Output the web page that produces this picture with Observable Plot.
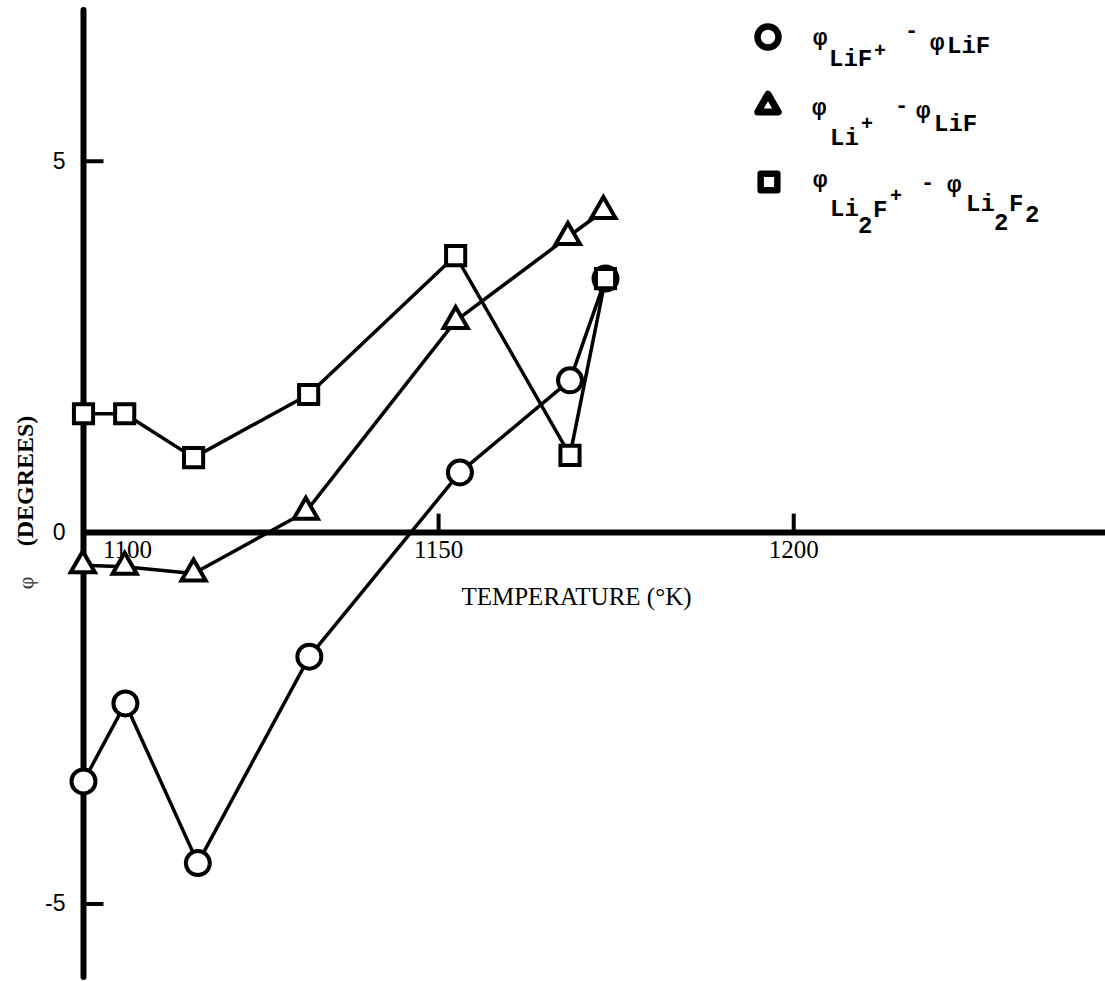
<!DOCTYPE html>
<html><head><meta charset="utf-8">
<script src="https://cdn.jsdelivr.net/npm/d3@7"></script>
<script src="https://cdn.jsdelivr.net/npm/@observablehq/plot@0.6"></script>
<style>
body{margin:0;background:#fff;}
#wrap{position:relative;width:1105px;height:981px;}
#wrap svg{display:block;}
</style></head><body><div id="wrap"></div>
<script>
// ---- data ----
const xTickValues = [1150, 1200];
const xTickLabels = [1100, 1150, 1200];
const yTickValues = [5, -5];
const yTickLabelValues = [5, 0, -5];
const yTickLabels = ["5", "0", "-5"];
const xLabel = "TEMPERATURE (°K)";
const yLabel = "(DEGREES)";
const yLabelSymbol = "φ";

// φ(LiF+) − φ(LiF)  — circles
const lifTemp = [1100.0, 1105.9, 1116.1, 1131.8, 1153.0, 1168.5, 1173.5];
const lifPhi  = [-3.35, -2.30, -4.45, -1.67, 0.81, 2.05, 3.42];
// φ(Li+) − φ(LiF)  — triangles
const liTemp = [1099.9, 1105.8, 1115.5, 1131.3, 1152.4, 1168.2, 1173.2];
const liPhi  = [-0.44, -0.46, -0.55, 0.28, 2.85, 3.98, 4.33];
// φ(Li2F+) − φ(Li2F2)  — squares
const li2fTemp = [1100.0, 1105.8, 1115.5, 1131.7, 1152.4, 1168.5, 1173.5];
const li2fPhi  = [1.60, 1.60, 1.01, 1.86, 3.73, 1.04, 3.42];

const toRows = (t, v) => t.map((d, i) => ({t: d, phi: v[i]}));
const lifRows = toRows(lifTemp, lifPhi);
const liRows = toRows(liTemp, liPhi);
const li2fRows = toRows(li2fTemp, li2fPhi);

// ---- styles ----
const serif = "Liberation Serif, Times New Roman, serif";
const sans = "Liberation Sans, Arial, sans-serif";
const tickUp = {draw(ctx){ ctx.moveTo(0, 0); ctx.lineTo(0, -19); }};
const tickRight = {draw(ctx){ ctx.moveTo(0, 0); ctx.lineTo(20, 0); }};
const lineStyle = {x: "t", y: "phi", stroke: "black", strokeWidth: 3.5, strokeLinejoin: "round"};
const dotStyle = {x: "t", y: "phi", stroke: "black", fill: "white", strokeWidth: 4};

const chart = Plot.plot({
  width: 1105, height: 981,
  marginLeft: 83, marginRight: 0, marginTop: 10, marginBottom: 4,
  x: {domain: [1100, 1243.9], axis: null},
  y: {domain: [-5.99, 7.03], axis: null},
  style: {background: "white"},
  marks: [
    Plot.ruleX([1100], {stroke: "black", strokeWidth: 6, strokeLinecap: "round"}),
    Plot.ruleY([0], {stroke: "black", strokeWidth: 6}),
    Plot.dot(xTickValues, {x: d => d, y: () => 0, symbol: tickUp, stroke: "black", fill: "none", strokeWidth: 4}),
    Plot.dot(yTickValues, {x: () => 1100, y: d => d, symbol: tickRight, stroke: "black", fill: "none", strokeWidth: 4}),
    Plot.text(xTickLabels.filter(d => d !== 1100), {x: d => d, y: () => 0, text: d => String(d), dy: 17, fontFamily: serif, fontSize: 25, fill: "black"}),
    Plot.text(xTickLabels.filter(d => d === 1100), {x: d => d, y: () => 0, text: d => String(d), dx: 44, dy: 17, fontFamily: serif, fontSize: 25, fill: "black"}),
    Plot.text(yTickLabelValues, {x: () => 1100, y: d => d, text: (d, i) => yTickLabels[i], dx: -18, textAnchor: "end", fontFamily: sans, fontSize: 23, fill: "black"}),
    Plot.text([xLabel], {frameAnchor: "top-left", text: d => d, dx: 493, dy: 586, textAnchor: "middle", lineAnchor: "middle", fontFamily: serif, fontSize: 25, fill: "black"}),
    Plot.text([yLabel], {frameAnchor: "left", text: d => d, rotate: -90, dx: -58, dy: -13, textAnchor: "middle", lineAnchor: "middle", fontFamily: serif, fontWeight: "bold", fontSize: 24, fill: "black"}),
    Plot.text([yLabelSymbol], {frameAnchor: "left", text: d => d, rotate: -90, dx: -58, dy: 89, textAnchor: "middle", lineAnchor: "middle", fontFamily: serif, fontSize: 22, fill: "#333"}),
    Plot.line(lifRows, lineStyle),
    Plot.line(liRows, lineStyle),
    Plot.line(li2fRows, lineStyle),
    Plot.dot(lifRows, {...dotStyle, r: 12}),
    Plot.dot(li2fRows, {...dotStyle, symbol: "square", r: 10.8}),
    Plot.dot(liRows, {...dotStyle, symbol: "triangle", r: 9})
  ]
});
document.getElementById("wrap").appendChild(chart);

// ---- legend (overlay) ----
const legend = d3.select("#wrap").append("svg")
  .attr("width", 1105).attr("height", 981)
  .style("position", "absolute").style("left", "0px").style("top", "0px");
const legendMarkers = [
  {sym: d3.symbolCircle, r: 10.5, x: 768, y: 37, w: 6.5},
  {sym: d3.symbolTriangle, r: 7.6, x: 768, y: 106, w: 7},
  {sym: d3.symbolSquare, r: 9.4, x: 769, y: 182, w: 6.5}
];
legend.selectAll("path").data(legendMarkers).join("path")
  .attr("d", d => d3.symbol(d.sym, d.r * d.r * Math.PI)())
  .attr("transform", d => `translate(${d.x},${d.y})`)
  .attr("fill", "white").attr("stroke", "black").attr("stroke-width", d => d.w)
  .attr("stroke-linejoin", "round");

const mono = "Liberation Mono, DejaVu Sans Mono, monospace";
const legendPieces = [
  // row 1: φ LiF+ − φ LiF
  ["φ", 813, 45, 24], ["LiF", 829, 66, 24], ["+", 874, 57, 20], ["-", 905, 37, 22], ["φ", 930, 50, 24], ["LiF", 947, 53, 24],
  // row 2: φ Li+ − φ LiF
  ["φ", 812, 115, 24], ["Li", 830, 145, 24], ["+", 861, 130, 20], ["-", 895, 112, 22], ["φ", 916, 118, 24], ["LiF", 934, 131, 24],
  // row 3: φ Li2F+ − φ Li2F2
  ["φ", 813, 187, 24], ["Li", 830, 216, 24], ["2", 858, 233, 24], ["F", 873, 217, 24], ["+", 890, 202, 20],
  ["-", 921, 189, 22], ["φ", 947, 192, 24], ["Li", 966, 211, 24], ["2", 994, 230, 24], ["F", 1009, 211, 24], ["2", 1025, 222, 24]
];
legend.selectAll("text").data(legendPieces).join("text")
  .attr("x", d => d[1]).attr("y", d => d[2])
  .attr("font-family", mono).attr("font-weight", "bold").attr("font-size", d => d[3])
  .attr("fill", "black")
  .text(d => d[0]);
</script>
</body></html>
